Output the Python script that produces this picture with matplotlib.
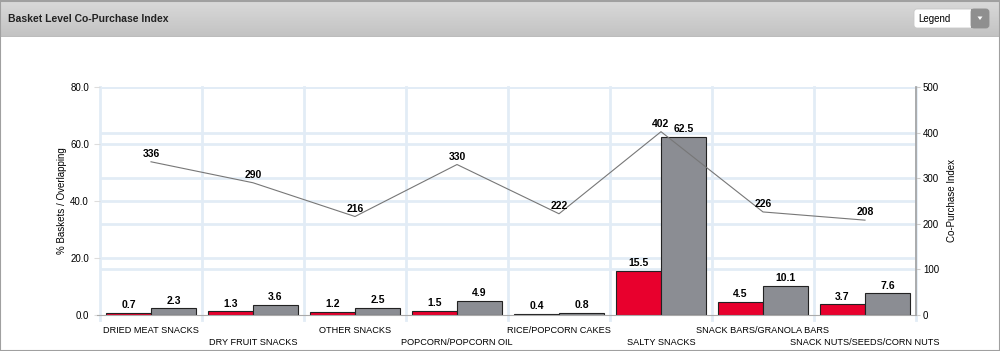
"""Basket level co-purchase index: paired bars with index line on a second axis."""

import numpy as np
import matplotlib.pyplot as plt
from matplotlib.patches import FancyBboxPatch, Rectangle, Polygon

plt.rcParams['font.family'] = ['Liberation Sans', 'DejaVu Sans']

categories = ['DRIED MEAT SNACKS', 'DRY FRUIT SNACKS', 'OTHER SNACKS',
              'POPCORN/POPCORN OIL', 'RICE/POPCORN CAKES', 'SALTY SNACKS',
              'SNACK BARS/GRANOLA BARS', 'SNACK NUTS/SEEDS/CORN NUTS']
pct_baskets = [0.7, 1.3, 1.2, 1.5, 0.4, 15.5, 4.5, 3.7]
pct_overlap = [2.3, 3.6, 2.5, 4.9, 0.8, 62.5, 10.1, 7.6]
copurchase_index = [336, 290, 216, 330, 222, 402, 226, 208]
left_ticks = [0, 20, 40, 60, 80]
right_ticks = [0, 100, 200, 300, 400, 500]

red = '#e8002d'
grey = '#8b8d93'
grid_c = '#e2ecf6'

fig = plt.figure(figsize=(10, 3.51), dpi=100)
fig.patch.set_facecolor('white')

# header band
hdr = fig.add_axes([0, 1 - 37 / 351, 1, 37 / 351])
grad = np.linspace(0, 1, 64).reshape(-1, 1)
hdr.imshow(grad, aspect='auto', cmap=plt.matplotlib.colors.LinearSegmentedColormap.from_list(
    'h', ['#dadada', '#c2c2c2']), extent=[0, 1000, 0, 37], origin='upper')
hdr.set_xlim(0, 1000)
hdr.set_ylim(0, 37)
hdr.axis('off')
hdr.axhline(0.5, color='#a8a8a8', lw=1)
hdr.axhline(36.5, color='#a0a0a0', lw=1.5)
hdr.text(8, 18, 'Basket Level Co-Purchase Index', fontsize=7.5, fontweight='bold',
         color='#222222', va='center', ha='left')
hdr.add_patch(FancyBboxPatch((914, 9), 74, 19, boxstyle='round,pad=0,rounding_size=3',
                             fc='white', ec='#c8c8c8', lw=0.6))
hdr.add_patch(FancyBboxPatch((971, 9), 18, 19, boxstyle='round,pad=0,rounding_size=3',
                             fc='#8f8f8f', ec='#8f8f8f', lw=0.6))
hdr.add_patch(Rectangle((971, 9), 5, 19, fc='#8f8f8f', ec='none'))
hdr.add_patch(Polygon([[977.5, 20.5], [982.5, 20.5], [980, 17]], closed=True, fc='white', ec='none'))
hdr.text(918, 18.5, 'Legend', fontsize=7, color='black', va='center', ha='left')

ax = fig.add_axes([0.1, 36 / 351, 0.816, 228 / 351])
x = np.arange(len(categories))
w = 0.44

for v in left_ticks[1:]:
    ax.axhline(v, color=grid_c, lw=2, zorder=0)
for v in right_ticks[1:]:
    ax.axhline(v * left_ticks[-1] / right_ticks[-1], color=grid_c, lw=2, zorder=0)
for b in np.arange(len(categories) + 1) - 0.5:
    ax.plot([b, b], [-1.6, 80], color=grid_c, lw=2, zorder=0, clip_on=False)

b1 = ax.bar(x - w / 2, pct_baskets, w, color=red, edgecolor='#222222', lw=0.8, zorder=2)
b2 = ax.bar(x + w / 2, pct_overlap, w, color=grey, edgecolor='#222222', lw=0.8, zorder=2)
for bars, vals in [(b1, pct_baskets), (b2, pct_overlap)]:
    for r, v in zip(bars, vals):
        ax.annotate(f'{v:.1f}', (r.get_x() + r.get_width() / 2, v), xytext=(0, 2),
                    textcoords='offset points', ha='center', va='bottom',
                    fontsize=7.5, fontweight='bold', zorder=5)

ax.set_xlim(-0.5, len(categories) - 0.5)
ax.set_ylim(0, 80)
ax.set_yticks(left_ticks)
ax.set_yticklabels([f'{v:.1f}' for v in left_ticks], fontsize=7)
ax.set_xticks(x)
ax.set_xticklabels(categories, fontsize=6.6)
ax.tick_params(axis='x', length=0, pad=8)
for t in ax.xaxis.get_major_ticks()[1::2]:
    t.set_pad(16.5)
ax.tick_params(axis='y', length=4, color='#dddddd', pad=4)
for s in ['top', 'left', 'right']:
    ax.spines[s].set_visible(False)
ax.spines['bottom'].set_color('#aaaaaa')
ax.spines['bottom'].set_bounds(-0.53, len(categories) - 0.5)
ax.set_ylabel('% Baskets / Overlapping', fontsize=7, labelpad=2)

ax2 = ax.twinx()
ax2.plot(x, copurchase_index, color='#777777', lw=0.8, zorder=3)
for xi, v in zip(x, copurchase_index):
    ax2.annotate(f'{v}', (xi, v), xytext=(0, 2), textcoords='offset points',
                 ha='center', va='bottom', fontsize=7.5, fontweight='bold')
ax2.set_ylim(0, 500)
ax2.set_yticks(right_ticks)
ax2.set_yticklabels([str(v) for v in right_ticks], fontsize=7)
ax2.tick_params(axis='y', length=3, color='#cccccc', pad=2)
for s in ['top', 'left', 'bottom']:
    ax2.spines[s].set_visible(False)
ax2.spines['right'].set_color('#a0a0a0')
ax2.spines['right'].set_linewidth(1.2)
ax2.set_ylabel('Co-Purchase Index', fontsize=7, labelpad=6)

# outer frame
fig.add_artist(Rectangle((0, 0), 1, 1, transform=fig.transFigure, fill=False,
                         ec='#a0a0a0', lw=1.5))

fig.savefig('out.png', dpi=100)
